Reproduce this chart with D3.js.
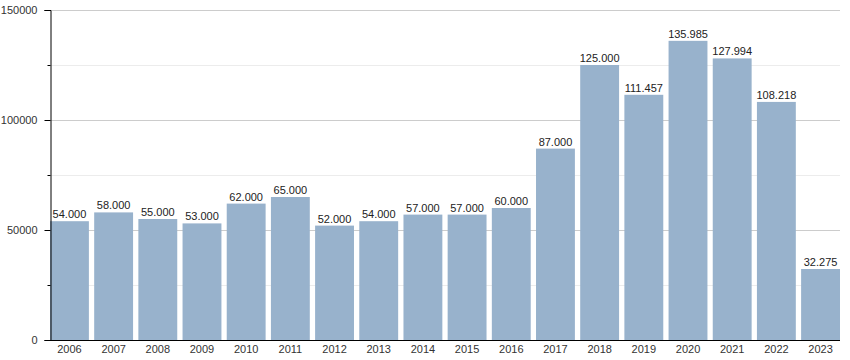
<!DOCTYPE html>
<html><head><meta charset="utf-8">
<script src="https://cdn.jsdelivr.net/npm/d3@7"></script>
<style>body{margin:0;background:#fff;} svg{display:block;font-family:"Liberation Sans",Arial,sans-serif;}</style>
</head><body>
<svg id="c" width="850" height="360"></svg>
<script>
const years = ["2006","2007","2008","2009","2010","2011","2012","2013","2014","2015","2016","2017","2018","2019","2020","2021","2022","2023"];
const values = [54000,58000,55000,53000,62000,65000,52000,54000,57000,57000,60000,87000,125000,111457,135985,127994,108218,32275];
const labels = ["54.000","58.000","55.000","53.000","62.000","65.000","52.000","54.000","57.000","57.000","60.000","87.000","125.000","111.457","135.985","127.994","108.218","32.275"];
const majorTicks = [0,50000,100000,150000];
const minorTicks = [25000,75000,125000];

(function(){
const svg = d3.select("#c");
const mLeft = 50, mRight = 840, mTop = 10, mBottom = 340;
const x = d3.scaleBand().domain(years).range([mLeft, mRight]).paddingInner(0.12).paddingOuter(0);
const y = d3.scaleLinear().domain([0,150000]).range([mBottom, mTop]);

// gridlines
svg.append("g").selectAll("line").data(minorTicks).join("line")
  .attr("x1", mLeft).attr("x2", mRight).attr("y1", d=>y(d)+0.5).attr("y2", d=>y(d)+0.5)
  .attr("stroke", "#ececec");
svg.append("g").selectAll("line").data(majorTicks.filter(d=>d>0)).join("line")
  .attr("x1", mLeft).attr("x2", mRight).attr("y1", d=>y(d)+0.5).attr("y2", d=>y(d)+0.5)
  .attr("stroke", "#cccccc");

// bars
svg.append("g").selectAll("rect").data(values).join("rect")
  .attr("x", (d,i)=>x(years[i])).attr("width", x.bandwidth())
  .attr("y", d=>y(d)).attr("height", d=>mBottom - y(d))
  .attr("fill", "#98b2cc");

// value labels
svg.append("g").selectAll("text").data(values).join("text")
  .attr("x", (d,i)=>x(years[i]) + x.bandwidth()/2).attr("y", d=>y(d)-3)
  .attr("text-anchor","middle").attr("font-size", 11).attr("fill","#222")
  .text((d,i)=>labels[i]);

// y axis
const ya = svg.append("g").attr("transform", `translate(${mLeft+0.5},0)`)
  .call(d3.axisLeft(y).tickValues(majorTicks).tickSize(6).tickPadding(7).tickFormat(d3.format("d")));
ya.select(".domain").attr("stroke","#000");
ya.selectAll("text").attr("font-size", 11).attr("fill","#333").attr("font-family","Liberation Sans, Arial, sans-serif");
ya.selectAll(".tick line").attr("stroke","#000");
const yb = svg.append("g").attr("transform", `translate(${mLeft+0.5},0)`)
  .call(d3.axisLeft(y).tickValues(minorTicks).tickSize(3).tickFormat(""));
yb.select(".domain").remove();
yb.selectAll(".tick line").attr("stroke","#000");

// x axis
const xa = svg.append("g").attr("transform", `translate(0,${mBottom+0.5})`)
  .call(d3.axisBottom(x).tickSize(0).tickPadding(5));
xa.select(".domain").attr("stroke","#000").attr("d", `M${mLeft},0H${mRight}`);
xa.selectAll("text").attr("font-size", 11).attr("fill","#333").attr("font-family","Liberation Sans, Arial, sans-serif");
})();
</script>
</body></html>
